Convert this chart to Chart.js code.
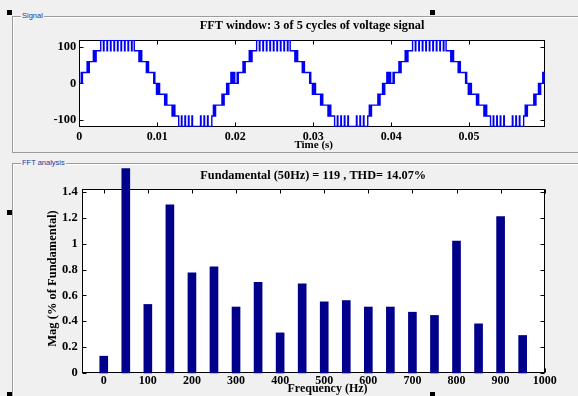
<!DOCTYPE html>
<html>
<head>
<meta charset="utf-8">
<script src="https://cdn.jsdelivr.net/npm/chart.js@4.4.1/dist/chart.umd.min.js"></script>
<style>
  html, body { margin: 0; padding: 0; background: #f0f0f0; width: 578px; height: 396px; overflow: hidden; }
  .frame { position: absolute; border: 1px solid #9c9c9c; border-right: none; box-shadow: inset 1px 1px 0 #ffffff; }
  .frame-label { position: absolute; font: 7.5px "Liberation Sans", sans-serif; color: #26389a; background: #f0f0f0; padding: 0 1px; line-height: 9px; }
  .handle { position: absolute; width: 5px; height: 5px; background: #000; }
  .plot { position: absolute; }
</style>
</head>
<body>
<div class="frame" style="left:12px; top:16px; width:620px; height:135px;"></div>
<div class="frame-label" style="left:21px; top:11px;">Signal</div>
<div class="frame" style="left:12px; top:163px; width:620px; height:240px; border-bottom:none;"></div>
<div class="frame-label" style="left:21px; top:158px;">FFT analysis</div>

<div class="plot" style="left:46px; top:0px;"><canvas id="signalChart" width="532" height="152"></canvas></div>
<div class="plot" style="left:46px; top:160px;"><canvas id="fftChart" width="532" height="236"></canvas></div>

<div class="handle" style="left:7px; top:10px;"></div>
<div class="handle" style="left:430px; top:10px;"></div>
<div class="handle" style="left:7px; top:210px;"></div>
<div class="handle" style="left:7px; top:392px;"></div>
<div class="handle" style="left:430px; top:392px;"></div>

<script>
// switching edges of one cycle of the multilevel voltage: [time in ms, level after the edge]
var switchEdges = [
  [0, 0], [0.25, 30], [0.32, 0], [0.40, 30],
  [1.00, 60], [1.07, 30], [1.14, 60], [1.21, 30], [1.28, 60],
  [1.80, 90], [1.86, 60], [1.92, 90], [1.98, 60], [2.04, 90], [2.10, 60], [2.16, 90],
  [2.75, 119], [3.10, 90], [3.17, 119], [3.55, 90], [3.62, 119], [4.00, 90], [4.07, 119],
  [4.45, 90], [4.52, 119], [4.90, 90], [4.97, 119], [5.35, 90], [5.42, 119],
  [5.80, 90], [5.87, 119], [6.25, 90], [6.32, 119], [6.70, 90], [6.77, 119], [7.05, 90],
  [7.65, 60], [7.71, 90], [7.77, 60], [7.83, 90], [7.89, 60], [7.95, 90], [8.01, 60],
  [8.60, 30], [8.67, 60], [8.74, 30], [8.81, 60], [8.88, 30],
  [9.55, 0], [9.62, 30], [9.69, 0],
  [9.90, -30], [9.95, 0], [10.00, -30], [10.05, 0], [10.10, -30], [10.15, 0], [10.20, -30], [10.25, 0], [10.30, -30],
  [10.95, -60], [11.02, -30], [11.09, -60], [11.16, -30], [11.23, -60],
  [11.90, -90], [11.96, -60], [12.02, -90], [12.08, -60], [12.14, -90], [12.20, -60], [12.26, -90],
  [12.75, -119], [13.10, -90], [13.17, -119], [13.55, -90], [13.62, -119], [14.00, -90], [14.07, -119],
  [14.45, -90], [14.52, -119],
  [15.55, -90], [15.62, -119], [16.00, -90], [16.07, -119], [16.45, -90], [16.52, -119], [17.00, -90],
  [17.20, -60], [17.27, -90], [17.34, -60], [17.41, -90], [17.48, -60],
  [18.30, -30], [18.37, -60], [18.44, -30], [18.51, -60], [18.58, -30],
  [18.90, 0], [18.97, -30], [19.04, 0], [19.11, -30], [19.18, 0],
  [19.45, 30], [19.52, 0], [19.59, 30], [19.66, 0], [19.73, 30], [19.80, 0], [19.87, 30], [19.94, 0]
];
var cycleStartsMs = [0, 20, 40];

var harmonicFreqs = [0, 50, 100, 150, 200, 250, 300, 350, 400, 450, 500, 550, 600, 650, 700, 750, 800, 850, 900, 950];
var harmonicMags  = [0.13, 1.58, 0.53, 1.30, 0.775, 0.82, 0.51, 0.70, 0.31, 0.69, 0.55, 0.56, 0.51, 0.51, 0.47, 0.445, 1.02, 0.38, 1.21, 0.29];

var signalTitle = 'FFT window: 3 of 5 cycles of voltage signal';
var fftTitle = 'Fundamental (50Hz) = 119 , THD= 14.07%';

var serifBold = '"Liberation Serif", "Times New Roman", serif';

function fmt(v) { return String(+Number(v).toFixed(6)); }

// white plot box, black frame with inward ticks on all four sides, titles and labels
var matlabAxes = {
  id: 'matlabAxes',
  beforeDraw: function (chart) {
    var a = chart.chartArea, ctx = chart.ctx;
    ctx.save();
    ctx.fillStyle = '#ffffff';
    ctx.fillRect(a.left, a.top, a.right - a.left, a.bottom - a.top);
    ctx.restore();
  },
  beforeDatasetsDraw: function (chart) {
    var a = chart.chartArea, ctx = chart.ctx, sx = chart.scales.x, sy = chart.scales.y;
    var L = Math.round(a.left) + 0.5, R = Math.round(a.right) - 0.5;
    var T = Math.round(a.top) + 0.5, B = Math.round(a.bottom) - 0.5;
    ctx.save();
    ctx.strokeStyle = '#000';
    ctx.lineWidth = 1;
    ctx.beginPath();
    sx.ticks.forEach(function (t) {
      var px = Math.round(sx.getPixelForValue(t.value)) + 0.5;
      ctx.moveTo(px, B); ctx.lineTo(px, B - 4);
      ctx.moveTo(px, T); ctx.lineTo(px, T + 4);
    });
    sy.ticks.forEach(function (t) {
      var py = Math.round(sy.getPixelForValue(t.value)) + 0.5;
      ctx.moveTo(L, py); ctx.lineTo(L + 4, py);
      ctx.moveTo(R, py); ctx.lineTo(R - 4, py);
    });
    ctx.stroke();
    ctx.strokeRect(L, T, R - L, B - T);
    ctx.restore();
  },
  afterDraw: function (chart, args, o) {
    var a = chart.chartArea, ctx = chart.ctx;
    var cx = (a.left + a.right) / 2;
    ctx.save();
    ctx.fillStyle = '#000';
    ctx.textAlign = 'center';
    ctx.textBaseline = 'alphabetic';
    ctx.font = 'bold 12.3px ' + serifBold;
    ctx.fillText(o.title, cx, a.top + o.titleDy);
    ctx.font = 'bold ' + o.xLabelSize + 'px ' + serifBold;
    ctx.fillText(o.xLabel, cx + o.xLabelDx, a.bottom + o.xLabelDy);
    if (o.yLabel) {
      ctx.translate(o.yLabelX, (a.top + a.bottom) / 2 + o.yLabelDy);
      ctx.rotate(-Math.PI / 2);
      ctx.font = 'bold 12.5px ' + serifBold;
      ctx.fillText(o.yLabel, 0, 0);
    }
    ctx.restore();
  }
};

var wavePoints = [];
cycleStartsMs.forEach(function (c0) {
  switchEdges.forEach(function (e) {
    wavePoints.push({ x: (c0 + e[0]) / 1000, y: e[1] });
  });
});

var barPoints = harmonicFreqs.map(function (f, i) { return { x: f, y: harmonicMags[i] }; });

new Chart(document.getElementById('signalChart'), {
  type: 'line',
  data: {
    datasets: [{
      data: wavePoints,
      stepped: true,
      borderColor: '#0000f2',
      borderWidth: 1.4,
      pointRadius: 0,
      fill: false
    }]
  },
  options: {
    responsive: false,
    animation: false,
    devicePixelRatio: 1,
    layout: { padding: { top: 40, right: 33.3, left: 0, bottom: 0 } },
    plugins: {
      legend: { display: false },
      tooltip: { enabled: false },
      matlabAxes: {
        title: signalTitle, titleDy: -10.7,
        xLabel: 'Time (s)', xLabelSize: 11, xLabelDx: 1.7, xLabelDy: 20.8
      }
    },
    scales: {
      x: {
        type: 'linear', min: 0, max: 0.0597,
        grid: { display: false, drawTicks: false },
        border: { display: false },
        ticks: { stepSize: 0.01, includeBounds: false, padding: 3, color: '#000', maxRotation: 0,
                 font: { family: serifBold, size: 12, weight: 'bold' }, callback: fmt },
        afterFit: function (s) { s.height = 25.3; }
      },
      y: {
        min: -119.5, max: 119.5,
        grid: { display: false, drawTicks: false },
        border: { display: false },
        ticks: { stepSize: 100, includeBounds: false, padding: 3, color: '#000',
                 font: { family: serifBold, size: 12.5, weight: 'bold' }, callback: fmt },
        afterFit: function (s) { s.width = 33.3; }
      }
    }
  },
  plugins: [matlabAxes]
});

new Chart(document.getElementById('fftChart'), {
  type: 'bar',
  data: {
    datasets: [{
      data: barPoints,
      backgroundColor: '#00008b',
      borderWidth: 0,
      barThickness: 8,
      clip: false
    }]
  },
  options: {
    responsive: false,
    animation: false,
    devicePixelRatio: 1,
    layout: { padding: { top: 29.3, right: 33.3, left: 0, bottom: 0 } },
    plugins: {
      legend: { display: false },
      tooltip: { enabled: false },
      matlabAxes: {
        title: fftTitle, titleDy: -10,
        xLabel: 'Frequency (Hz)', xLabelSize: 12, xLabelDx: 14.3, xLabelDy: 19,
        yLabel: 'Mag (% of Fundamental)', yLabelX: 9.5, yLabelDy: -2.7
      }
    },
    scales: {
      x: {
        type: 'linear', min: -50, max: 1000, offset: false,
        grid: { display: false, drawTicks: false, offset: false },
        border: { display: false },
        ticks: { stepSize: 100, includeBounds: false, padding: 1, color: '#000', maxRotation: 0,
                 font: { family: serifBold, size: 12, weight: 'bold' }, callback: fmt },
        afterFit: function (s) { s.height = 23; }
      },
      y: {
        min: 0, max: 1.42,
        grid: { display: false, drawTicks: false },
        border: { display: false },
        ticks: { stepSize: 0.2, includeBounds: false, padding: 4, color: '#000',
                 font: { family: serifBold, size: 12.5, weight: 'bold' }, callback: fmt },
        afterFit: function (s) { s.width = 35.7; }
      }
    }
  },
  plugins: [matlabAxes]
});
</script>
</body>
</html>
